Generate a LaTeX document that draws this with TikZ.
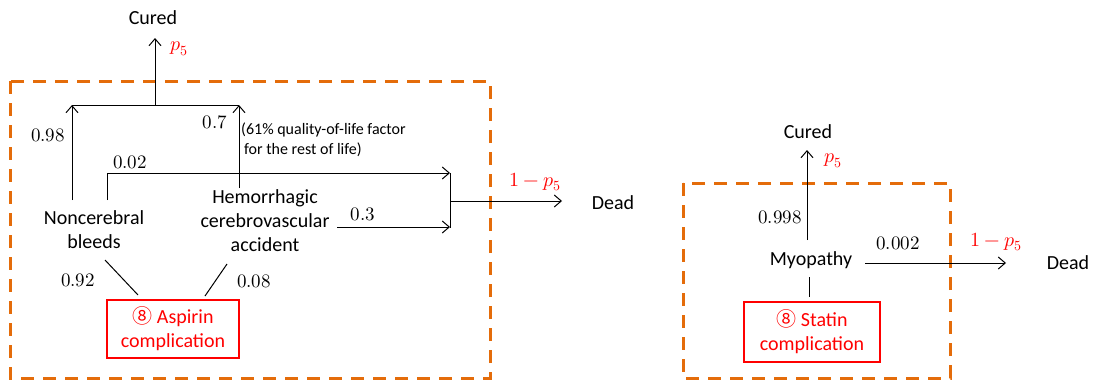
\documentclass[tikz,border=0pt]{standalone}
\usepackage{unicode-math}
\setmainfont{Carlito}
\newfontfamily\circfont{Noto Sans CJK SC}
\usetikzlibrary{arrows.meta}
\definecolor{dorange}{HTML}{E46C0A}
\definecolor{dred}{HTML}{FF0000}
\begin{document}
\begin{tikzpicture}[x=1pt,y=-1pt,
  txt/.style={font=\fontsize{20}{24}\selectfont, align=center, inner sep=0pt},
  num/.style={font=\fontsize{19}{22}\selectfont, inner sep=0pt},
  prob/.style={font=\fontsize{20}{24}\selectfont, text=dred, inner sep=0pt},
  note/.style={font=\fontsize{16}{19.5}\selectfont, align=left, inner sep=0pt},
  compbox/.style={draw=dred, line width=1.2pt, text=dred, font=\fontsize{20}{24}\selectfont, align=center, inner sep=0pt},
  grp/.style={draw=dorange, line width=3pt, dash pattern=on 13pt off 9pt},
  link/.style={line width=1pt},
  arr/.style={link, -{Straight Barb[length=7pt,width=12pt]}}
]
\useasboundingbox (0,0) rectangle (1093,380);

% ---------- left group ----------
\draw[grp] (10,81) rectangle (490,378);

\node[txt] (cured1) at (153,18) {Cured};
\node[txt] (nb) at (94,230) {Noncerebral\\bleeds};
\node[txt] (hca) at (265,221) {Hemorrhagic\\cerebrovascular\\accident};
\node[txt] (dead1) at (613,203) {Dead};
\node[compbox, minimum width=132pt, minimum height=58pt] (asp) at (173,329) {{\circfont ⑧} Aspirin\\complication};

\coordinate (cu1end) at (155,38);
\coordinate (jtop) at (155,105);
\coordinate (jl) at (72,105);
\coordinate (jr) at (239,105);
\coordinate (nbA) at (72,200);
\coordinate (nbB) at (107,200);
\coordinate (nbC) at (107,173);
\coordinate (barT) at (450,173);
\coordinate (barB) at (450,228);
\coordinate (barM) at (450,201);
\coordinate (hcaT) at (239,188);
\coordinate (hcaR) at (337,227);
\coordinate (hcaE) at (450,227);
\coordinate (d1end) at (562,201);
\coordinate (nbD) at (105,260);
\coordinate (aspL) at (138,295);
\coordinate (hcaD) at (227,264);
\coordinate (aspR) at (205,296);

\draw[link] (jl) -- (jr);
\draw[arr] (nbA) -- (jl);
\draw[arr] (hcaT) -- (jr);
\draw[arr] (jtop) -- (cu1end);
\draw[arr] (nbB) -- (nbC) -- (barT);
\draw[arr] (hcaR) -- (hcaE);
\draw[link] (barT) -- (barB);
\draw[arr] (barM) -- (d1end);
\draw[link] (nbD) -- (aspL);
\draw[link] (hcaD) -- (aspR);

\node[prob] (p1) at (179,49) {$p_5$};
\node[num] (n098) at (48,135) {$0.98$};
\node[num] (n07) at (215,122) {$0.7$};
\node[note, anchor=west] (note) at (241,140) {(61\% quality-of-life factor\\\hspace*{3pt}for the rest of life)};
\node[num] (n002) at (130,162) {$0.02$};
\node[num] (n03) at (363,214) {$0.3$};
\node[num] (n092) at (78,280) {$0.92$};
\node[num] (n008) at (254,281) {$0.08$};
\node[prob] (q1) at (535,182) {$1-p_5$};

% ---------- right group ----------
\draw[grp] (683,183) rectangle (950,378);

\node[txt] (cured2) at (808,132) {Cured};
\node[txt] (myo) at (811,260) {Myopathy};
\node[txt] (dead2) at (1068,263) {Dead};
\node[compbox, minimum width=136pt, minimum height=60pt] (sta) at (812,332) {{\circfont ⑧} Statin\\complication};

\coordinate (myoT) at (807,240);
\coordinate (cu2end) at (807,150);
\coordinate (myoR) at (865,263);
\coordinate (d2end) at (1006,263);
\coordinate (myoB) at (809,277);
\coordinate (staT) at (809,297);

\draw[arr] (myoT) -- (cu2end);
\draw[arr] (myoR) -- (d2end);
\draw[link] (myoB) -- (staT);

\node[prob] (p2) at (833,161) {$p_5$};
\node[num] (n0998) at (780,217) {$0.998$};
\node[num] (n0002) at (898,243) {$0.002$};
\node[prob] (q2) at (996,242) {$1-p_5$};
\end{tikzpicture}
\end{document}
